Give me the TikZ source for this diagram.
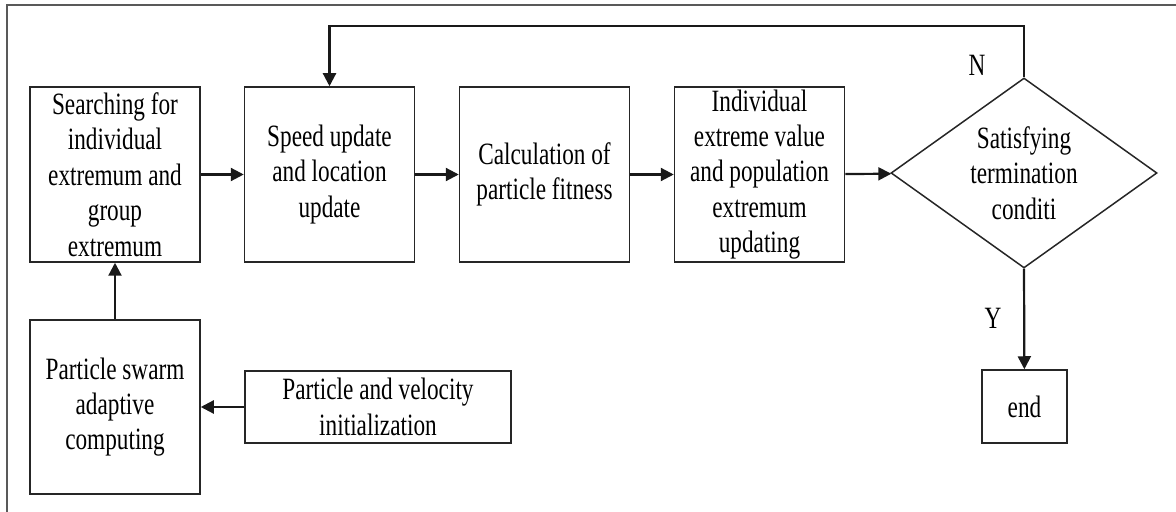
\documentclass[tikz,border=0pt]{standalone}
\usepackage{fontspec}
\setmainfont{Liberation Serif}[FakeStretch=0.75]
\usetikzlibrary{shapes.geometric,arrows.meta}
\begin{document}
\begin{tikzpicture}[x=0.5pt,y=-0.5pt,
  every node/.style={font=\fontsize{15.5}{17.7}\selectfont, text=black},
  box/.style={draw=black!85, line width=0.75pt, rectangle, align=center, inner sep=0pt},
  bigbox/.style={box, minimum width=85pt, minimum height=87.5pt},
  decision/.style={draw=black!85, line width=0.75pt, diamond, aspect=1.4, minimum width=133pt, minimum height=95pt, inner sep=0pt, align=center},
  flow/.style={line width=1.1pt, draw=black!90, -{Triangle[length=6.5pt,width=6.5pt]}},
  lbl/.style={inner sep=0pt}
]
\useasboundingbox (0,0) rectangle (1176,512);
\draw[line width=1pt, black!65] (7,512) -- (7,5) -- (1176,5);

\node[bigbox] (search) at (115,174.5) {Searching for\\individual\\extremum and\\group\\extremum};
\node[bigbox] (speed) at (329.5,174.5) {Speed update\\and location\\update};
\node[bigbox] (calc) at (544.5,174.5) {Calculation of\\particle fitness};
\node[bigbox] (indiv) at (759.5,174.5) {Individual\\extreme value\\and population\\extremum\\updating};
\node[decision] (cond) at (1024,173) {Satisfying\\termination\\conditi\hspace{17.7pt}};
\node[box, minimum width=42.5pt, minimum height=36.5pt] (end) at (1024.5,406.5) {end};
\node[box, minimum width=85pt, minimum height=87pt] (swarm) at (115,407) {Particle swarm\\adaptive\\computing};
\node[box, minimum width=133pt, minimum height=36pt] (pv) at (378,407) {Particle and velocity\\initialization};

\coordinate (fbR) at (1024,26);
\coordinate (fbL) at (329.5,26);

\draw[flow] (search) -- (speed);
\draw[flow] (speed) -- (calc);
\draw[flow] (calc) -- (indiv);
\draw[flow] (indiv) -- (cond);
\draw[flow] (cond.south) -- (end);
\draw[flow] (cond.north) -- (fbR) -- (fbL) -- (speed.north);
\draw[flow] (swarm) -- (search);
\draw[flow] (pv) -- (swarm);

\node[lbl] (nlab) at (977,65) {N};
\node[lbl] (ylab) at (993,318) {Y};
\end{tikzpicture}
\end{document}
